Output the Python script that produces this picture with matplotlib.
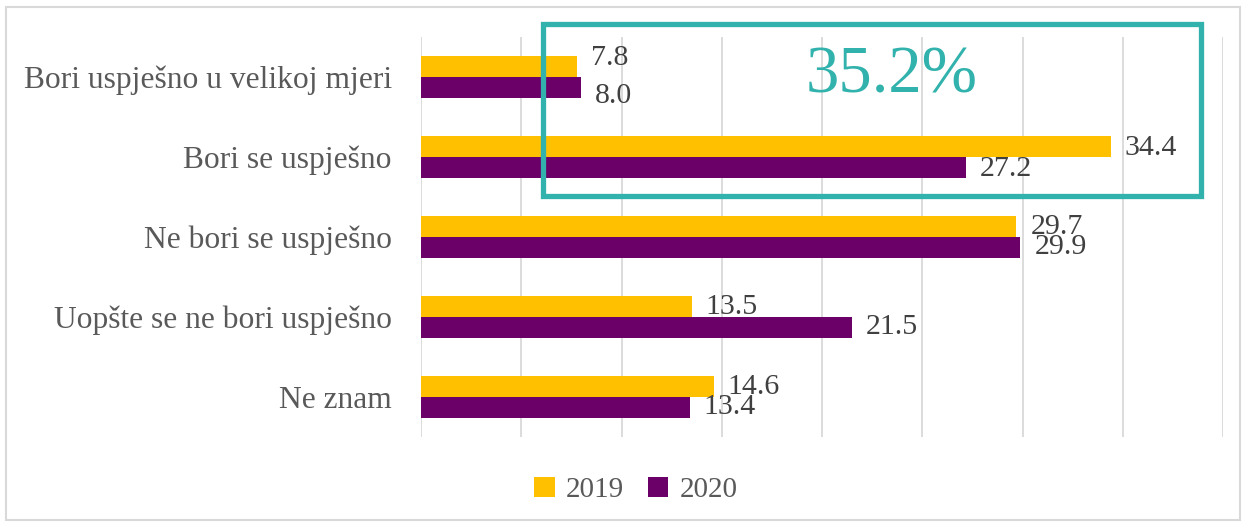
import matplotlib
matplotlib.use("Agg")
import matplotlib.pyplot as plt
from matplotlib.patches import Rectangle

plt.rcParams['font.family'] = ['Liberation Serif', 'DejaVu Serif']

categories = ["Bori uspješno u velikoj mjeri", "Bori se uspješno", "Ne bori se uspješno",
              "Uopšte se ne bori uspješno", "Ne znam"]
values_2019 = [7.8, 34.4, 29.7, 13.5, 14.6]
values_2020 = [8.0, 27.2, 29.9, 21.5, 13.4]
series_names = ["2019", "2020"]
highlight_text = "35.2%"

c2019 = "#FFC000"
c2020 = "#6B0068"
teal = "#31B2AC"
grid_c = "#D9D9D9"

fig = plt.figure(figsize=(12.48, 5.27), dpi=100)
# outer chart border
fig.patches.append(Rectangle((6 / 1248, 7 / 527), 1234 / 1248, 513 / 527, transform=fig.transFigure,
                             fill=False, edgecolor="#D9D9D9", linewidth=1.5))

ax = fig.add_axes([421 / 1248, 1 - 437 / 527, 802 / 1248, 400 / 527])
h = 0.26
pos = list(range(len(categories)))
ax.barh([p - h / 2 for p in pos], values_2019, height=h, color=c2019, label=series_names[0], zorder=3)
ax.barh([p + h / 2 for p in pos], values_2020, height=h, color=c2020, label=series_names[1], zorder=3)

ax.set_xlim(0, 40)
ax.set_ylim(len(categories) - 0.5, -0.5)
ax.set_xticks(range(0, 41, 5))
ax.set_xticklabels([])
ax.tick_params(axis='x', length=0)
ax.grid(axis='x', color=grid_c, linewidth=1.3, zorder=0)
ax.set_yticks(pos)
ax.set_yticklabels(categories, fontsize=22.7, color="#595959")
ax.tick_params(axis='y', length=0, pad=21)
for s in ax.spines.values():
    s.set_visible(False)

# value labels (first category labels were pushed outwards in the original)
dy_2019 = [6, -1, 0, 0, 0]
dy_2020 = [-6, -1, 0, 0, 0]
for i, (a, b) in enumerate(zip(values_2019, values_2020)):
    ax.annotate(f"{a:.1f}", (a, i - h / 2), xytext=(10, dy_2019[i]), textcoords="offset points",
                va="center", ha="left", fontsize=21.5, color="#404040", zorder=4)
    ax.annotate(f"{b:.1f}", (b, i + h / 2), xytext=(10, dy_2020[i]), textcoords="offset points",
                va="center", ha="left", fontsize=21.5, color="#404040", zorder=4)

# highlight box
fig.patches.append(Rectangle((543 / 1248, 1 - 196 / 527), 658 / 1248, 172 / 527, transform=fig.transFigure,
                             fill=False, edgecolor=teal, linewidth=3.8, zorder=5))
fig.text(892 / 1248, 1 - 76 / 527, highlight_text, fontsize=48, color=teal, ha="center", va="center")

leg = fig.legend(loc="center", bbox_to_anchor=(636 / 1248, 1 - 490 / 527), ncol=2, frameon=False,
                 fontsize=21, handlelength=0.7, handleheight=0.7, handletextpad=0.4, columnspacing=0.8)
for t in leg.get_texts():
    t.set_color("#595959")

fig.savefig("out.png", dpi=100)
